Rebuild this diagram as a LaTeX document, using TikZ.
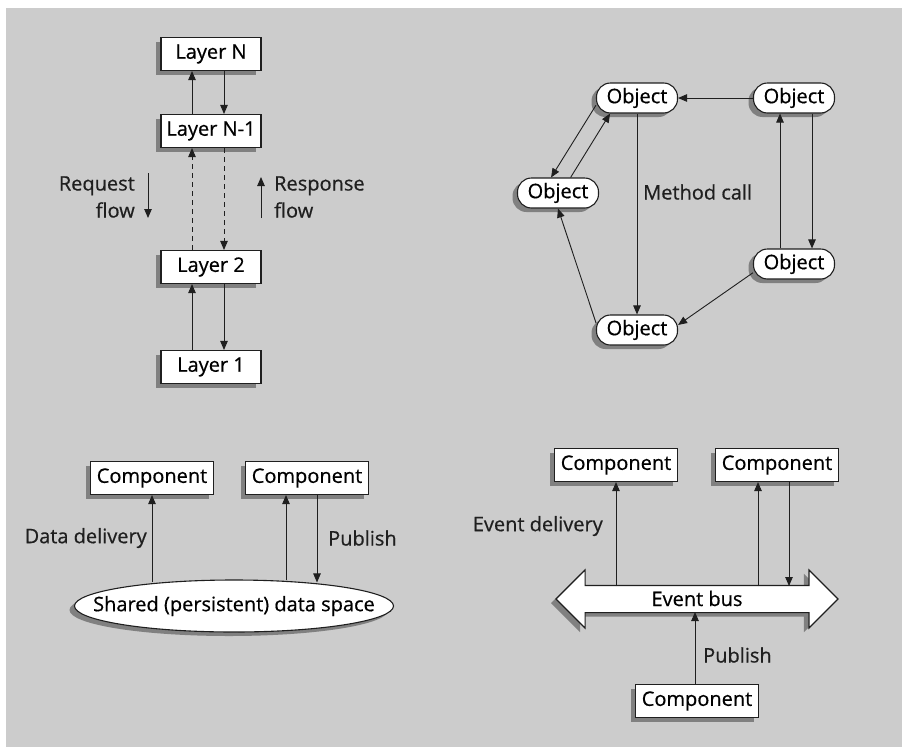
\documentclass[tikz,border=0pt]{standalone}
\usepackage{fontspec}
\setmainfont{Open Sans}[FakeBold=0.6]
\usetikzlibrary{arrows.meta,shadows,shapes.geometric,shapes.arrows}

\definecolor{fondo}{gray}{0.8}
\definecolor{ombra}{gray}{0.5}
\definecolor{inchiostro}{gray}{0.12}

\tikzset{
  ombreggiato/.style={drop shadow={shadow xshift=-5pt,shadow yshift=-4pt,fill=ombra,opacity=1}},
  riquadro/.style={draw=inchiostro,fill=white,line width=1.1pt,inner sep=0pt,minimum height=33pt,ombreggiato},
  livello/.style={riquadro,minimum width=100pt},
  componente/.style={riquadro,minimum width=123pt},
  oggetto/.style={riquadro,rounded corners=14pt,minimum width=81pt,minimum height=30pt},
  freccia/.style={-{Triangle[length=9pt,width=7.5pt]},draw=inchiostro,line width=0.9pt},
  tratteggio/.style={freccia,dash pattern=on 5pt off 4pt},
  etichetta/.style={inner sep=0pt,text=inchiostro}
}

\begin{document}
\begin{tikzpicture}[x=1pt,y=-1pt,font=\fontsize{20}{27}\selectfont]
  \useasboundingbox (0,0) rectangle (902,747);
  \fill[white] (0,0) rectangle (902,747);
  \fill[fondo] (6,8) rectangle (902,747);

  % architettura a livelli
  \node[livello] (ln)  at (211,54)  {Layer N};
  \node[livello] (ln1) at (211,131) {Layer N-1};
  \node[livello] (l2)  at (211,267) {Layer 2};
  \node[livello] (l1)  at (211,367) {Layer 1};

  \draw[freccia] ([xshift=-19pt]ln1.north) -- ([xshift=-19pt]ln.south);
  \draw[freccia] ([xshift=13pt]ln.south) -- ([xshift=13pt]ln1.north);
  \draw[tratteggio] ([xshift=-19pt]l2.north) -- ([xshift=-19pt]ln1.south);
  \draw[tratteggio] ([xshift=13pt]ln1.south) -- ([xshift=13pt]l2.north);
  \draw[freccia] ([xshift=-19pt]l1.north) -- ([xshift=-19pt]l2.south);
  \draw[freccia] ([xshift=13pt]l2.south) -- ([xshift=13pt]l1.north);

  \node[etichetta,align=right,anchor=east] (req) at (135,197) {Request\\flow};
  \coordinate (reqa) at (148,173);
  \coordinate (reqb) at (148,218);
  \draw[freccia] (reqa) -- (reqb);
  \node[etichetta,align=left,anchor=west] (resp) at (274,197) {Response\\flow};
  \coordinate (respa) at (261,218);
  \coordinate (respb) at (261,177);
  \draw[freccia] (respa) -- (respb);

  % oggetti
  \node[oggetto] (o1) at (637,98)  {Object};
  \node[oggetto] (o2) at (794,98)  {Object};
  \node[oggetto] (o3) at (558,193) {Object};
  \node[oggetto] (o4) at (794,264) {Object};
  \node[oggetto] (o5) at (637,330) {Object};

  \draw[freccia] (o2.west) -- (o1.east);
  \draw[freccia] (o1.190) -- (o3.114);
  \draw[freccia] (o3.51) -- (o1.210);
  \draw[freccia] (o1.south) -- (o5.north);
  \draw[freccia] (o5.170) -- (o3.south);
  \draw[freccia] (o4.192) -- (o5.7);
  \draw[freccia] ([xshift=-14pt]o4.north) -- ([xshift=-14pt]o2.south);
  \draw[freccia] ([xshift=18pt]o2.south) -- ([xshift=18pt]o4.north);
  \node[etichetta,anchor=west] (mc) at (643,192) {Method call};

  % spazio dati condiviso
  \node[componente] (c1) at (152,478) {Component};
  \node[componente] (c2) at (307,478) {Component};
  \node[ellipse,draw=inchiostro,fill=white,line width=1.1pt,inner xsep=-40pt,inner ysep=0pt,
        minimum width=319pt,minimum height=52pt,ombreggiato] (ds) at (234,606)
        {Shared (persistent) data space};

  \coordinate (c1a) at (c1.south);
  \coordinate (c2a) at ([xshift=-21pt]c2.south);
  \coordinate (c2b) at ([xshift=10pt]c2.south);
  \coordinate (ds1) at ([yshift=-3pt]ds.north -| c1a);
  \coordinate (ds2) at ([yshift=-1pt]ds.north -| c2a);
  \coordinate (ds3) at ([yshift=-3pt]ds.north -| c2b);
  \draw[freccia] (ds1) -- (c1a);
  \draw[freccia] (ds2) -- (c2a);
  \draw[freccia] (c2b) -- (ds3);
  \node[etichetta,anchor=east] (dd) at (147,538) {Data delivery};
  \node[etichetta,anchor=west] (pub1) at (328,538) {Publish};

  % bus degli eventi
  \node[componente] (c3) at (616,465) {Component};
  \node[componente] (c4) at (777,465) {Component};
  \node[componente] (c5) at (697,701) {Component};
  \node[double arrow,draw=inchiostro,fill=white,line width=1.1pt,inner xsep=0pt,inner ysep=6pt,
        text height=14pt,text depth=0pt,double arrow head extend=15.5pt,
        minimum height=282pt,ombreggiato] (bus) at (697,599) {Event bus};

  \coordinate (bsu) at ([yshift=13pt]bus.center);
  \coordinate (bgiu) at ([yshift=-13pt]bus.center);
  \coordinate (c4a) at ([xshift=-19pt]c4.south);
  \coordinate (c4b) at ([xshift=12pt]c4.south);
  \coordinate (c5a) at ([xshift=-2pt]c5.north);
  \draw[freccia] (bsu -| c3.south) -- (c3.south);
  \draw[freccia] (bsu -| c4a) -- (c4a);
  \draw[freccia] (c4b) -- (bsu -| c4b);
  \draw[freccia] (c5a) -- (bgiu -| c5a);
  \node[etichetta,anchor=east] (ed) at (603,526) {Event delivery};
  \node[etichetta,anchor=west] (pub2) at (703,655) {Publish};
\end{tikzpicture}
\end{document}
